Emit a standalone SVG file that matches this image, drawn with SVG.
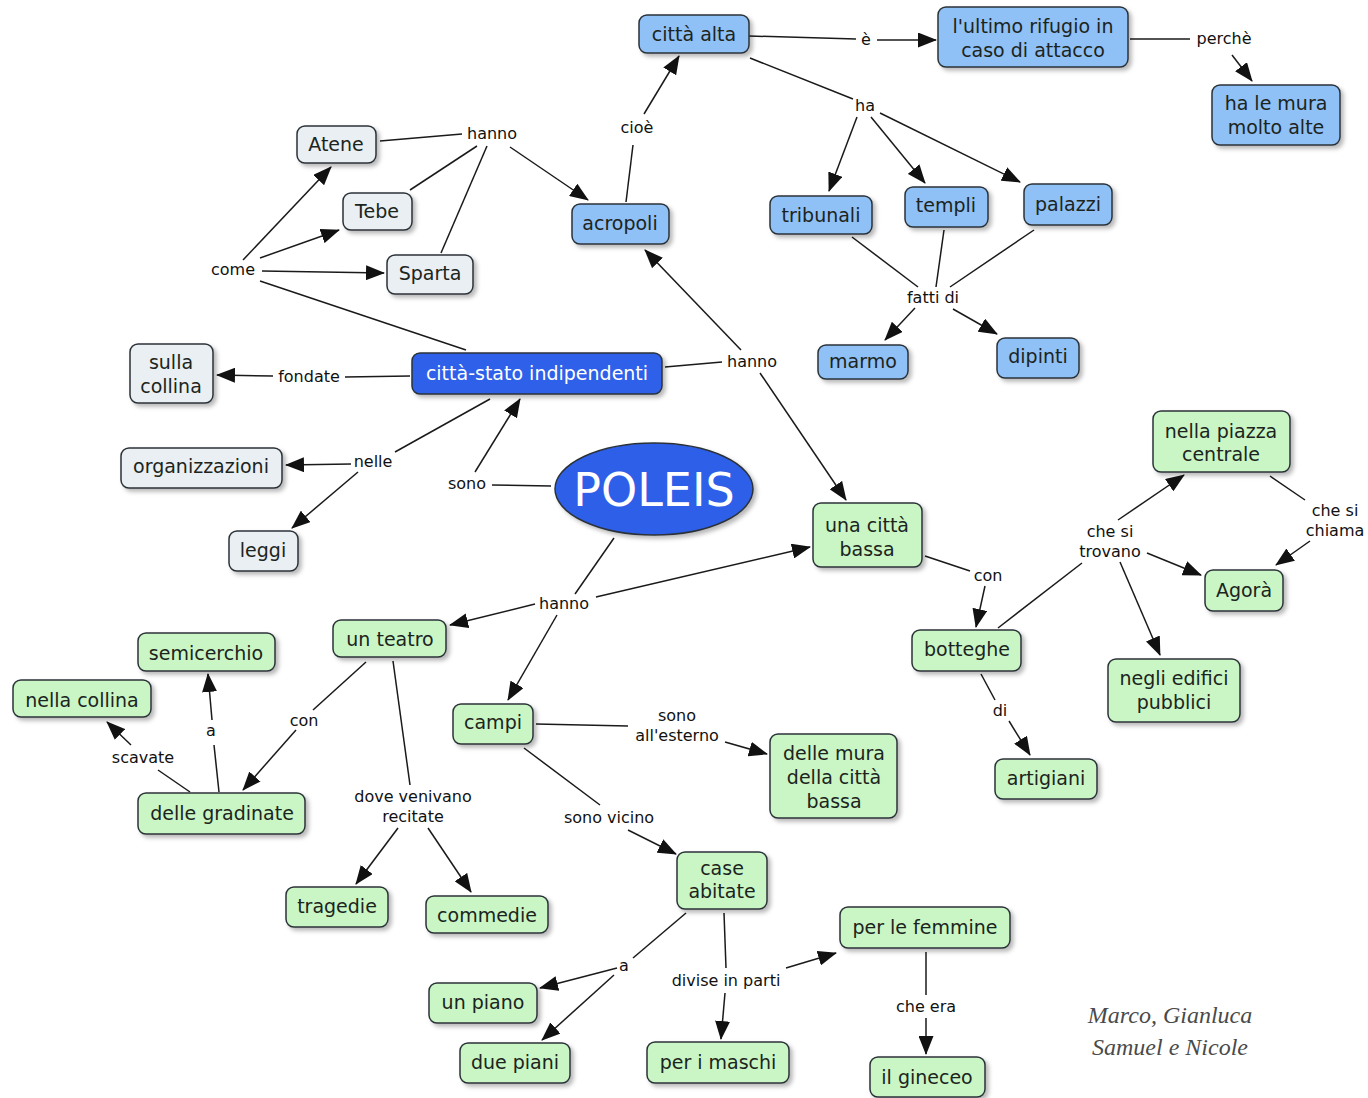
<svg xmlns="http://www.w3.org/2000/svg" width="1368" height="1098" viewBox="0 0 1368 1098">
  <defs>
    <marker id="arr" markerUnits="userSpaceOnUse" markerWidth="19" markerHeight="15" refX="18" refY="7.5" orient="auto">
      <path d="M0,0 L19,7.5 L0,15 Z" fill="#111"/>
    </marker>
    <filter id="sh" x="-10%" y="-10%" width="130%" height="140%">
      <feDropShadow dx="3" dy="3" stdDeviation="2" flood-color="#000" flood-opacity="0.28"/>
    </filter>
    <style>
      .n rect, .n ellipse { stroke: #2b3338; stroke-width: 1.5; filter: url(#sh); }
      .blue rect { fill: #8fc0f6; }
      .grey rect { fill: #e9eff2; }
      .green rect { fill: #c9f6c4; }
      .dark rect { fill: #2f60e9; }
      .n text { font-family: "DejaVu Sans", Verdana, sans-serif; font-size: 19px; fill: #1c2420; text-anchor: middle; }
      .dark text { fill: #ffffff; }
      .lbl { font-family: "DejaVu Sans", Verdana, sans-serif; font-size: 16px; fill: #111; text-anchor: middle; }
      .c line { stroke: #1a1a1a; stroke-width: 1.5; fill: none; }
      .c line.a { marker-end: url(#arr); }
      .sig { font-family: "Liberation Serif", "DejaVu Serif", serif; font-style: italic; font-size: 24px; fill: #4a4a4a; text-anchor: middle; }
    </style>
  </defs>
  <rect width="1368" height="1098" fill="#ffffff"/>

  <!-- connectors -->
  <g id="connectors" class="c">
    <line x1="749" y1="36" x2="856" y2="39"/>
    <line class="a" x1="877" y1="40" x2="936" y2="40"/>
    <line x1="1130" y1="39" x2="1190" y2="39"/>
    <line class="a" x1="1232" y1="55" x2="1252" y2="81"/>
    <line x1="626" y1="202" x2="633" y2="145"/>
    <line class="a" x1="644" y1="114" x2="679" y2="56"/>
    <line x1="750" y1="58" x2="853" y2="99"/>
    <line class="a" x1="857" y1="117" x2="829" y2="191"/>
    <line class="a" x1="871" y1="117" x2="925" y2="183"/>
    <line class="a" x1="880" y1="113" x2="1020" y2="182"/>
    <line x1="852" y1="237" x2="918" y2="287"/>
    <line x1="944" y1="230" x2="936" y2="287"/>
    <line x1="1034" y1="230" x2="950" y2="287"/>
    <line class="a" x1="915" y1="308" x2="885" y2="340"/>
    <line class="a" x1="953" y1="309" x2="997" y2="334"/>
    <line x1="380" y1="141" x2="462" y2="134"/>
    <line x1="410" y1="190" x2="477" y2="146"/>
    <line x1="441" y1="253" x2="487" y2="146"/>
    <line class="a" x1="510" y1="147" x2="588" y2="200"/>
    <line class="a" x1="243" y1="260" x2="331" y2="167"/>
    <line class="a" x1="260" y1="258" x2="339" y2="230"/>
    <line class="a" x1="262" y1="271" x2="384" y2="273"/>
    <line x1="260" y1="281" x2="466" y2="350"/>
    <line x1="410" y1="376" x2="345" y2="377"/>
    <line class="a" x1="273" y1="376" x2="217" y2="375"/>
    <line x1="665" y1="367" x2="722" y2="362"/>
    <line class="a" x1="741" y1="350" x2="645" y2="250"/>
    <line class="a" x1="760" y1="373" x2="846" y2="500"/>
    <line x1="490" y1="399" x2="395" y2="452"/>
    <line class="a" x1="351" y1="464" x2="286" y2="465"/>
    <line class="a" x1="358" y1="472" x2="292" y2="528"/>
    <line x1="551" y1="486" x2="492" y2="485"/>
    <line class="a" x1="475" y1="472" x2="520" y2="399"/>
    <line x1="614" y1="538" x2="575" y2="594"/>
    <line class="a" x1="535" y1="604" x2="450" y2="625"/>
    <line class="a" x1="557" y1="615" x2="508" y2="700"/>
    <line class="a" x1="596" y1="597" x2="810" y2="547"/>
    <line x1="925" y1="556" x2="970" y2="571"/>
    <line class="a" x1="985" y1="586" x2="976" y2="627"/>
    <line x1="998" y1="628" x2="1082" y2="563"/>
    <line class="a" x1="1118" y1="520" x2="1184" y2="475"/>
    <line class="a" x1="1147" y1="553" x2="1201" y2="575"/>
    <line class="a" x1="1120" y1="562" x2="1160" y2="655"/>
    <line x1="1270" y1="476" x2="1305" y2="500"/>
    <line class="a" x1="1310" y1="541" x2="1276" y2="565"/>
    <line x1="981" y1="674" x2="995" y2="700"/>
    <line class="a" x1="1009" y1="721" x2="1030" y2="755"/>
    <line x1="366" y1="662" x2="313" y2="710"/>
    <line class="a" x1="296" y1="730" x2="243" y2="790"/>
    <line x1="219" y1="792" x2="214" y2="745"/>
    <line class="a" x1="212" y1="720" x2="208" y2="674"/>
    <line x1="190" y1="792" x2="158" y2="770"/>
    <line class="a" x1="131" y1="745" x2="107" y2="722"/>
    <line x1="393" y1="661" x2="410" y2="785"/>
    <line class="a" x1="398" y1="828" x2="356" y2="884"/>
    <line class="a" x1="428" y1="828" x2="471" y2="892"/>
    <line x1="536" y1="724" x2="628" y2="726"/>
    <line class="a" x1="725" y1="742" x2="767" y2="754"/>
    <line x1="524" y1="748" x2="600" y2="805"/>
    <line class="a" x1="628" y1="830" x2="676" y2="854"/>
    <line x1="686" y1="913" x2="633" y2="958"/>
    <line class="a" x1="617" y1="968" x2="540" y2="988"/>
    <line class="a" x1="614" y1="975" x2="542" y2="1040"/>
    <line x1="724" y1="913" x2="726" y2="968"/>
    <line class="a" x1="725" y1="993" x2="721" y2="1039"/>
    <line class="a" x1="786" y1="968" x2="836" y2="953"/>
    <line x1="926" y1="952" x2="926" y2="995"/>
    <line class="a" x1="926" y1="1018" x2="926" y2="1054"/>
  </g>

  <!-- linking phrases -->
  <g id="labels">
    <text class="lbl" x="866" y="45">è</text>
    <text class="lbl" x="1224" y="44">perchè</text>
    <text class="lbl" x="637" y="133">cioè</text>
    <text class="lbl" x="865" y="111">ha</text>
    <text class="lbl" x="492" y="139">hanno</text>
    <text class="lbl" x="233" y="275">come</text>
    <text class="lbl" x="933" y="303">fatti di</text>
    <text class="lbl" x="309" y="382">fondate</text>
    <text class="lbl" x="752" y="367">hanno</text>
    <text class="lbl" x="373" y="467">nelle</text>
    <text class="lbl" x="467" y="489">sono</text>
    <text class="lbl" x="1110" y="537">che si</text>
    <text class="lbl" x="1110" y="557">trovano</text>
    <text class="lbl" x="1335" y="516">che si</text>
    <text class="lbl" x="1335" y="536">chiama</text>
    <text class="lbl" x="988" y="581">con</text>
    <text class="lbl" x="564" y="609">hanno</text>
    <text class="lbl" x="1000" y="716">di</text>
    <text class="lbl" x="304" y="726">con</text>
    <text class="lbl" x="211" y="736">a</text>
    <text class="lbl" x="143" y="763">scavate</text>
    <text class="lbl" x="677" y="721">sono</text>
    <text class="lbl" x="677" y="741">all'esterno</text>
    <text class="lbl" x="413" y="802">dove venivano</text>
    <text class="lbl" x="413" y="822">recitate</text>
    <text class="lbl" x="609" y="823">sono vicino</text>
    <text class="lbl" x="624" y="971">a</text>
    <text class="lbl" x="726" y="986">divise in parti</text>
    <text class="lbl" x="926" y="1012">che era</text>
  </g>

  <!-- concepts -->
  <g id="citta-alta" class="n blue"><rect x="639" y="15" width="110" height="38" rx="8"/><text x="694" y="41">città alta</text></g>
  <g id="ultimo-rifugio" class="n blue"><rect x="938" y="7" width="190" height="60" rx="8"/><text x="1033" y="33">l'ultimo rifugio in</text><text x="1033" y="57">caso di attacco</text></g>
  <g id="mura-alte" class="n blue"><rect x="1212" y="85" width="128" height="60" rx="8"/><text x="1276" y="110">ha le mura</text><text x="1276" y="134">molto alte</text></g>
  <g id="atene" class="n grey"><rect x="297" y="126" width="79" height="37" rx="8"/><text x="336" y="151">Atene</text></g>
  <g id="tebe" class="n grey"><rect x="343" y="193" width="69" height="37" rx="8"/><text x="377" y="218">Tebe</text></g>
  <g id="sparta" class="n grey"><rect x="387" y="255" width="86" height="39" rx="8"/><text x="430" y="280">Sparta</text></g>
  <g id="acropoli" class="n blue"><rect x="572" y="204" width="97" height="40" rx="8"/><text x="620" y="230">acropoli</text></g>
  <g id="tribunali" class="n blue"><rect x="770" y="196" width="102" height="38" rx="8"/><text x="821" y="222">tribunali</text></g>
  <g id="templi" class="n blue"><rect x="905" y="187" width="83" height="40" rx="8"/><text x="946" y="212">templi</text></g>
  <g id="palazzi" class="n blue"><rect x="1024" y="184" width="88" height="41" rx="8"/><text x="1068" y="211">palazzi</text></g>
  <g id="marmo" class="n blue"><rect x="818" y="345" width="90" height="34" rx="8"/><text x="863" y="368">marmo</text></g>
  <g id="dipinti" class="n blue"><rect x="997" y="338" width="82" height="40" rx="8"/><text x="1038" y="363">dipinti</text></g>
  <g id="citta-stato" class="n dark"><rect x="412" y="353" width="250" height="41" rx="8"/><text x="537" y="380">città-stato indipendenti</text></g>
  <g id="sulla-collina" class="n grey"><rect x="130" y="344" width="83" height="59" rx="8"/><text x="171" y="369">sulla</text><text x="171" y="393">collina</text></g>
  <g id="organizzazioni" class="n grey"><rect x="121" y="448" width="161" height="40" rx="8"/><text x="201" y="473">organizzazioni</text></g>
  <g id="leggi" class="n grey"><rect x="229" y="531" width="69" height="40" rx="8"/><text x="263" y="557">leggi</text></g>
  <g id="poleis" class="n"><ellipse cx="654" cy="489" rx="99" ry="46" fill="#2f5fe8" stroke="#1a2a60"/><text x="654" y="506" style="font-size:46px;fill:#ffffff">POLEIS</text></g>
  <g id="citta-bassa" class="n green"><rect x="813" y="503" width="109" height="64" rx="8"/><text x="867" y="532">una città</text><text x="867" y="556">bassa</text></g>
  <g id="piazza" class="n green"><rect x="1153" y="411" width="137" height="61" rx="8"/><text x="1221" y="438">nella piazza</text><text x="1221" y="461">centrale</text></g>
  <g id="agora" class="n green"><rect x="1205" y="570" width="78" height="41" rx="8"/><text x="1244" y="597">Agorà</text></g>
  <g id="botteghe" class="n green"><rect x="912" y="630" width="109" height="41" rx="8"/><text x="967" y="656">botteghe</text></g>
  <g id="edifici" class="n green"><rect x="1108" y="659" width="132" height="63" rx="8"/><text x="1174" y="685">negli edifici</text><text x="1174" y="709">pubblici</text></g>
  <g id="artigiani" class="n green"><rect x="995" y="759" width="102" height="40" rx="8"/><text x="1046" y="785">artigiani</text></g>
  <g id="teatro" class="n green"><rect x="333" y="620" width="113" height="37" rx="8"/><text x="390" y="646">un teatro</text></g>
  <g id="semicerchio" class="n green"><rect x="138" y="633" width="137" height="38" rx="8"/><text x="206" y="660">semicerchio</text></g>
  <g id="nella-collina" class="n green"><rect x="13" y="680" width="138" height="37" rx="8"/><text x="82" y="707">nella collina</text></g>
  <g id="gradinate" class="n green"><rect x="138" y="793" width="167" height="41" rx="8"/><text x="222" y="820">delle gradinate</text></g>
  <g id="campi" class="n green"><rect x="453" y="704" width="80" height="40" rx="8"/><text x="493" y="729">campi</text></g>
  <g id="mura" class="n green"><rect x="770" y="734" width="127" height="84" rx="8"/><text x="834" y="760">delle mura</text><text x="834" y="784">della città</text><text x="834" y="808">bassa</text></g>
  <g id="tragedie" class="n green"><rect x="286" y="887" width="102" height="40" rx="8"/><text x="337" y="913">tragedie</text></g>
  <g id="commedie" class="n green"><rect x="426" y="896" width="122" height="37" rx="8"/><text x="487" y="922">commedie</text></g>
  <g id="case" class="n green"><rect x="677" y="852" width="90" height="57" rx="8"/><text x="722" y="875">case</text><text x="722" y="898">abitate</text></g>
  <g id="femmine" class="n green"><rect x="840" y="907" width="170" height="41" rx="8"/><text x="925" y="934">per le femmine</text></g>
  <g id="un-piano" class="n green"><rect x="429" y="983" width="108" height="40" rx="8"/><text x="483" y="1009">un piano</text></g>
  <g id="due-piani" class="n green"><rect x="460" y="1043" width="110" height="40" rx="8"/><text x="515" y="1069">due piani</text></g>
  <g id="maschi" class="n green"><rect x="647" y="1042" width="142" height="41" rx="8"/><text x="718" y="1069">per i maschi</text></g>
  <g id="gineceo" class="n green"><rect x="870" y="1057" width="115" height="40" rx="8"/><text x="927" y="1084">il gineceo</text></g>

  <!-- authors -->
  <g id="authors">
    <text class="sig" x="1170" y="1023">Marco, Gianluca</text>
    <text class="sig" x="1170" y="1055">Samuel e Nicole</text>
  </g>
</svg>
